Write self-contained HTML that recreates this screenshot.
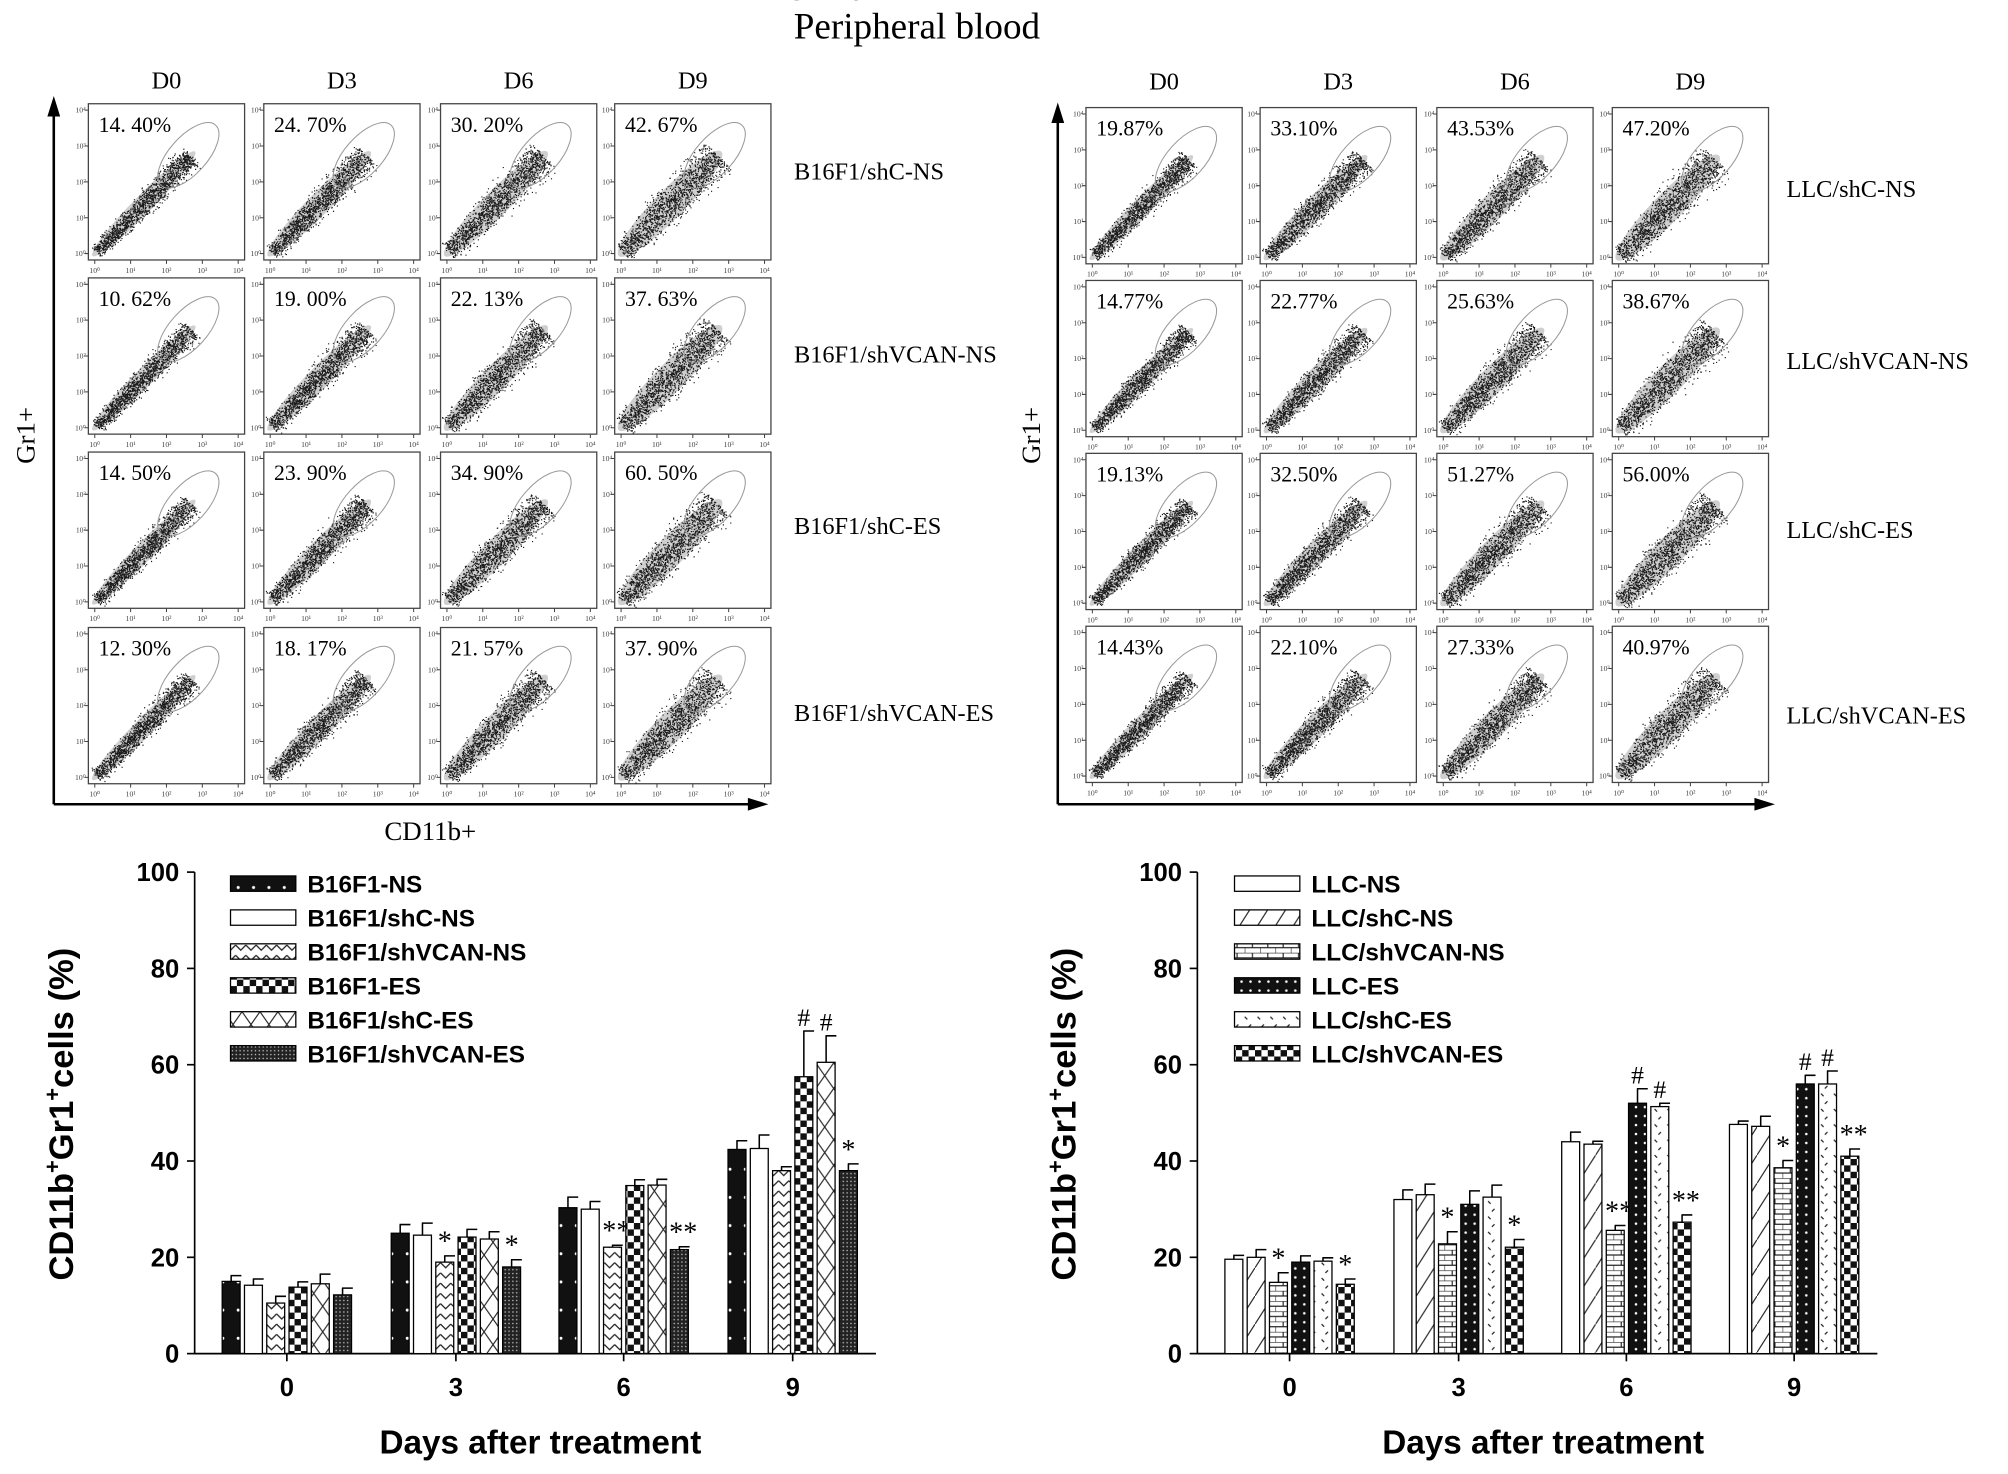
<!DOCTYPE html>
<html><head><meta charset="utf-8">
<style>
html,body{margin:0;padding:0;background:#fff;}
svg{display:block;}
.serif{font-family:"Liberation Serif",serif;}
.sans{font-family:"Liberation Sans",sans-serif;font-weight:bold;}
</style></head>
<body>
<svg id="fig" width="2008" height="1474" viewBox="0 0 1568 1151" xmlns="http://www.w3.org/2000/svg">
<defs>
 <pattern id="pDotsBlack" width="12" height="22" patternUnits="userSpaceOnUse"><rect width="12" height="22" fill="#111"/><circle cx="6" cy="11" r="1.2" fill="#fff"/></pattern>
 <pattern id="pWhite" width="10" height="10" patternUnits="userSpaceOnUse"><rect width="10" height="10" fill="#fff"/></pattern>
 <pattern id="pZig" width="8" height="8" patternUnits="userSpaceOnUse"><rect width="8" height="8" fill="#fff"/><path d="M0,2 L4,6 L8,2" fill="none" stroke="#222" stroke-width="1"/></pattern>
 <pattern id="pCheck" width="10" height="10" patternUnits="userSpaceOnUse"><rect width="10" height="10" fill="#fff"/><rect width="5" height="5" fill="#111"/><rect x="5" y="5" width="5" height="5" fill="#111"/></pattern>
 <pattern id="pX" width="14" height="20" patternUnits="userSpaceOnUse"><rect width="14" height="20" fill="#fff"/><path d="M0,0 L14,20 M14,0 L0,20" stroke="#222" stroke-width="0.9"/></pattern>
 <pattern id="pGrid" width="3" height="3" patternUnits="userSpaceOnUse"><rect width="3" height="3" fill="#222"/><rect x="1" y="1" width="1" height="1" fill="#ccc"/></pattern>
 <pattern id="pDiag" width="14" height="22" patternUnits="userSpaceOnUse"><rect width="14" height="22" fill="#fff"/><path d="M0,22 L14,0" stroke="#222" stroke-width="0.9"/></pattern>
 <pattern id="pBrick" width="12" height="8" patternUnits="userSpaceOnUse"><rect width="12" height="8" fill="#fff"/><path d="M0,0 H12 M0,4 H12 M6,0 V4 M0,4 V8" stroke="#222" stroke-width="0.9" fill="none"/></pattern>
 <pattern id="pDotsBlack2" width="7" height="7" patternUnits="userSpaceOnUse"><rect width="7" height="7" fill="#111"/><circle cx="3.5" cy="3.5" r="1" fill="#fff"/></pattern>
 <pattern id="pSpeck" width="10" height="12" patternUnits="userSpaceOnUse"><rect width="10" height="12" fill="#fff"/><path d="M2,2 l2,2 M7,8 l-2,2" stroke="#222" stroke-width="1"/></pattern>
</defs>

<text class="serif" x="716" y="30" font-size="29" text-anchor="middle">Peripheral blood</text>

<g id="flowLeft"></g>
<g id="flowRight"></g>
<g id="barLeft"></g>
<g id="barRight"></g>
</svg>

<script>
// ---------- flow cytometry data ----------
const dayLabels = ["D0","D3","D6","D9"];
const leftRows = ["B16F1/shC-NS","B16F1/shVCAN-NS","B16F1/shC-ES","B16F1/shVCAN-ES"];
const leftPct = [["14. 40%","24. 70%","30. 20%","42. 67%"],["10. 62%","19. 00%","22. 13%","37. 63%"],["14. 50%","23. 90%","34. 90%","60. 50%"],["12. 30%","18. 17%","21. 57%","37. 90%"]];
const rightRows = ["LLC/shC-NS","LLC/shVCAN-NS","LLC/shC-ES","LLC/shVCAN-ES"];
const rightPct = [["19.87%","33.10%","43.53%","47.20%"],["14.77%","22.77%","25.63%","38.67%"],["19.13%","32.50%","51.27%","56.00%"],["14.43%","22.10%","27.33%","40.97%"]];

// ---------- bar chart data ----------
const days = ["0","3","6","9"];
const leftSeries = ["B16F1-NS","B16F1/shC-NS","B16F1/shVCAN-NS","B16F1-ES","B16F1/shC-ES","B16F1/shVCAN-ES"];
const leftVals = [[15,14.2,10.5,13.8,14.5,12.2],[25,24.6,19,24.2,23.8,18],[30.3,30,22.1,34.9,35,21.6],[42.4,42.6,38,57.5,60.5,38]];
const leftErr = [[1.2,1.3,1.4,1.1,2,1.4],[1.8,2.5,1.3,1.6,1.5,1.5],[2.2,1.6,0.4,1.2,1.2,0.6],[1.8,2.8,0.8,9.5,5.5,1.4]];
const leftAnn = [["","","","","",""],["","","*","","","*"],["","","**","","","**"],["","","","#","#","*"]];
const rightSeries = ["LLC-NS","LLC/shC-NS","LLC/shVCAN-NS","LLC-ES","LLC/shC-ES","LLC/shVCAN-ES"];
const rightVals = [[19.6,20,14.8,19,19.2,14.4],[32,33,22.8,31,32.5,22.1],[44,43.5,25.6,52,51.3,27.3],[47.6,47.2,38.6,56,56,41]];
const rightErr = [[0.8,1.6,2,1.3,0.7,1.1],[2,2.2,2.5,2.8,2.5,1.6],[2,0.6,1,3,0.7,1.5],[0.7,2.1,1.5,1.8,2.7,1.5]];
const rightAnn = [["","","*","","","*"],["","","*","","","*"],["","","**","#","#","**"],["","","*","#","#","**"]];
const yTicks = [0,20,40,60,80,100];

const NS="http://www.w3.org/2000/svg";
function mk(tag, attrs, parent, text){
  const e=document.createElementNS(NS,tag);
  for(const k in attrs) e.setAttribute(k,attrs[k]);
  if(text!==undefined) e.textContent=text;
  parent.appendChild(e); return e;
}

// deterministic hash for cytometry event cloud texture
let seed=12345;
function rnd(){ seed=(seed*1103515245+12345)%2147483648; return seed/2147483648; }

function scatterPlot(g,x,y,w,h,pct,spread){
  const box=mk("rect",{x:x,y:y,width:w,height:h,fill:"#fff",stroke:"#444","stroke-width":1},g);
  
  
  const tl=["10\u2070","10\u00b9","10\u00b2","10\u00b3","10\u2074"];
  let tk="";
  for(let i=0;i<5;i++){
    const tx=x+5+i*(w-10)/4, ty=y+h-5-i*(h-10)/4;
    tk+=`M${tx},${y+h} v3 M${x},${ty} h-3 `;
    mk("text",{x:tx,y:y+h+10,"font-size":6,"text-anchor":"middle",fill:"#444",class:"serif"},g,tl[i]);
    mk("text",{x:x-2,y:ty+2,"font-size":6,"text-anchor":"end",fill:"#444",class:"serif"},g,tl[i]);
  }
  mk("path",{d:tk,stroke:"#444","stroke-width":0.8},g);
  // light density band
  const x0=x+6,y0=y+h-6,x1=x+w*0.66,y1=y+h*0.33;
  const ang=Math.atan2(y1-y0,x1-x0)*180/Math.PI, len=Math.hypot(x1-x0,y1-y0);
  mk("ellipse",{cx:(x0+x1)/2,cy:(y0+y1)/2,rx:len/2+4,ry:spread*0.9,transform:`rotate(${ang} ${(x0+x1)/2} ${(y0+y1)/2})`,fill:"#cfcfcf"},g);
  let d="";
  for(let k=0;k<1500;k++){
    const t=Math.pow(rnd(),0.9);
    const s=(rnd()+rnd()+rnd()-1.5)*spread*(0.7+t*0.5);
    const px=x0+t*(x1-x0)+s*0.7, py=y0+t*(y1-y0)+s*0.7;
    if(px>x+1&&px<x+w-1&&py>y+1&&py<y+h-1) d+="M"+px.toFixed(1)+","+py.toFixed(1)+"h0.9v0.9h-0.9z";
  }
  mk("path",{d:d,fill:"#1a1a1a"},g);
  mk("ellipse",{cx:x+w*0.64,cy:y+h*0.33,rx:w*0.26,ry:h*0.12,transform:`rotate(-48 ${x+w*0.64} ${y+h*0.33})`,fill:"none",stroke:"#999","stroke-width":0.8},g);
  const p=mk("text",{x:x+8,y:y+22,"font-size":17,class:"serif"},g,pct);
  
  
}

function flowPanel(gid,cols,rows,colW,rowH,pct,rowNames,labelX,rowLabelY,axX,axTop,axY,axRight,colLabelY,gr1X,cdX,cdY){
  const g=document.getElementById(gid);
  dayLabels.forEach((dl,i)=>{
    const t=mk("text",{x:cols[i]+colW/2,y:colLabelY,"font-size":19,"text-anchor":"middle",class:"serif"},g,dl);
    
    
  });
  for(let r=0;r<4;r++){
    for(let c=0;c<4;c++) scatterPlot(g,cols[c],rows[r],colW,rowH,pct[r][c],8+c*1.5);
    const t=mk("text",{x:labelX,y:rowLabelY[r],"font-size":19,class:"serif"},g,rowNames[r]);
    
    
  }
  const ya=mk("path",{d:`M${axX},${axY} V${axTop+14}`,stroke:"#000","stroke-width":2,fill:"none"},g);
  
  
  mk("path",{d:`M${axX-5},${axTop+16} L${axX},${axTop} L${axX+5},${axTop+16}Z`,fill:"#000"},g);
  const xa=mk("path",{d:`M${axX},${axY} H${axRight-14}`,stroke:"#000","stroke-width":2,fill:"none"},g);
  
  
  mk("path",{d:`M${axRight-16},${axY-5} L${axRight},${axY} L${axRight-16},${axY+5}Z`,fill:"#000"},g);
  const gl=mk("text",{x:gr1X,y:340,"font-size":21,"text-anchor":"middle",class:"serif",transform:`rotate(-90 ${gr1X} 340)`},g,"Gr1+");
  
  
  const cl=mk("text",{x:cdX,y:cdY,"font-size":21,"text-anchor":"middle",class:"serif"},g,"CD11b+");
  
  
}

flowPanel("flowLeft",[69,206,344,480],[81,217,353,490],122,122,leftPct,leftRows,620,[140,283,417,563],42,75,628,600,69,27,336,656);
flowPanel("flowRight",[848,984,1122,1259],[84,219,354,489],122,122,rightPct,rightRows,1395,[154,288,420,565],826,80,628,1386,70,812,650);

function barChart(gid,axX,axRight,centers,series,vals,errs,anns,fills,legX,ytitleX,xtitleX){
  const g=document.getElementById(gid);
  const y0=1057, y100=681;
  const Y=v=>y0-(v/100)*(y0-y100);
  const bw=14, step=17.4;
  mk("path",{d:`M${axX},${Y(100)} V${y0} H${axRight}`,stroke:"#000","stroke-width":1.3,fill:"none"},g);
  yTicks.forEach(t=>{
    mk("path",{d:`M${axX-6},${Y(t)} H${axX}`,stroke:"#000","stroke-width":1.3},g);
    const tl=mk("text",{x:axX-12,y:Y(t)+7,"font-size":20,"text-anchor":"end",class:"sans"},g,String(t));
    
    
  });
  days.forEach((d,i)=>{
    mk("path",{d:`M${centers[i]},${y0} V${y0+6}`,stroke:"#000","stroke-width":1.3},g);
    const tl=mk("text",{x:centers[i],y:y0+33,"font-size":20,"text-anchor":"middle",class:"sans"},g,d);
    
    
    vals[i].forEach((v,j)=>{
      const cx=centers[i]+(j-2.5)*step, top=Y(v), et=Y(v+errs[i][j]);
      mk("path",{d:`M${cx},${top} V${et} M${cx-0.5},${et} H${cx+bw/2+1}`,stroke:"#000","stroke-width":1.2,fill:"none"},g);
      const b=mk("rect",{x:cx-bw/2,y:top,width:bw,height:y0-top,fill:fills[j],stroke:"#000","stroke-width":1},g);
      
      
      if(anns[i][j]){
        const a=anns[i][j];
        const at=mk("text",{x:cx+(a==="**"?3:0),y:et-4,"font-size":a==="#"?20:22,"text-anchor":"middle",class:"serif"},g,a);
        
        
      }
    });
  });
  series.forEach((s,j)=>{
    const ly=684+j*26.5;
    const sw=mk("rect",{x:legX,y:ly,width:51,height:12,fill:fills[j],stroke:"#000","stroke-width":1},g);
    
    
    const lt=mk("text",{x:legX+60,y:ly+13,"font-size":19,class:"sans"},g,s);
    
    
  });
  const yt=mk("text",{x:ytitleX,y:870,"font-size":27,"text-anchor":"middle",class:"sans",transform:`rotate(-90 ${ytitleX} 870)`},g);
  
  
  yt.innerHTML='CD11b<tspan dy="-10" font-size="17">+</tspan><tspan dy="10">Gr1</tspan><tspan dy="-10" font-size="17">+</tspan><tspan dy="10">cells (%)</tspan>';
  const xt=mk("text",{x:xtitleX,y:1135,"font-size":26,"text-anchor":"middle",class:"sans"},g,"Days after treatment");
  
  
}

barChart("barLeft",152,684,[224,356,487,619],leftSeries,leftVals,leftErr,leftAnn,
  ["url(#pDotsBlack)","url(#pWhite)","url(#pZig)","url(#pCheck)","url(#pX)","url(#pGrid)"],180,57,422);
barChart("barRight",935,1466,[1007,1139,1270,1401],rightSeries,rightVals,rightErr,rightAnn,
  ["url(#pWhite)","url(#pDiag)","url(#pBrick)","url(#pDotsBlack2)","url(#pSpeck)","url(#pCheck)"],964,840,1205);
</script>
</body></html>
